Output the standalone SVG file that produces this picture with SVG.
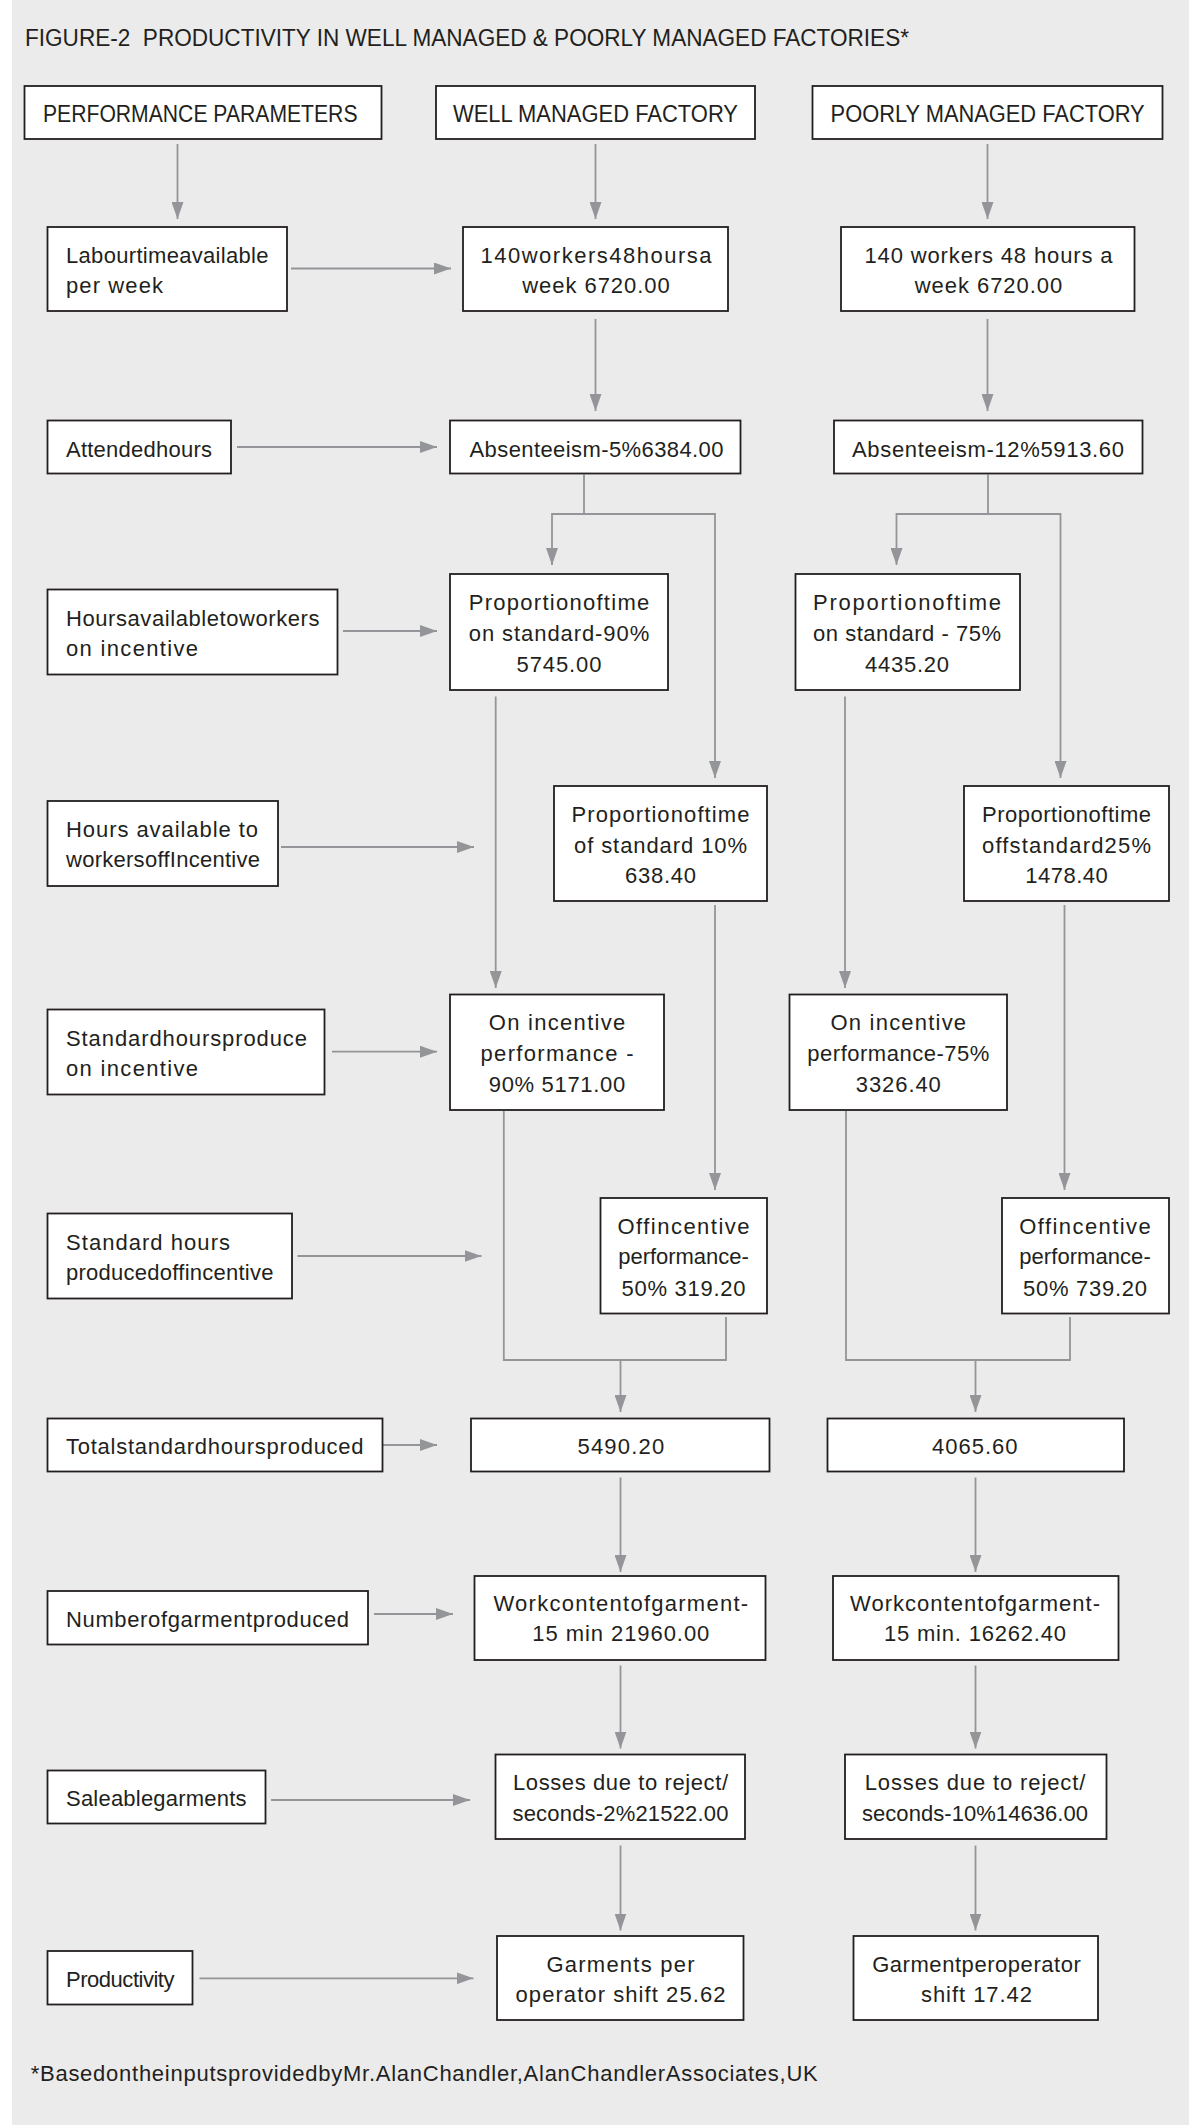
<svg xmlns="http://www.w3.org/2000/svg" width="1200" height="2125" viewBox="0 0 1200 2125">
<style>
.bg{fill:#ebebeb}
.box{fill:#ffffff;stroke:#231f20;stroke-width:1.8}
.t{font-family:"Liberation Sans",Arial,sans-serif;font-size:22px;fill:#231f20}
.h{font-size:23px}
.c{text-anchor:middle}
.ln{fill:none;stroke:#939598;stroke-width:1.8}
.ar{marker-end:url(#ah)}
</style>
<defs>
<marker id="ah" markerUnits="userSpaceOnUse" markerWidth="17" markerHeight="12" refX="17" refY="6" orient="auto" viewBox="0 0 17 12">
<path d="M0,0 L17,6 L0,12 Z" fill="#939598"/>
</marker>
</defs>
<rect width="1200" height="2125" fill="#ffffff"/>
<rect class="bg" x="12" y="0" width="1177" height="2125"/>
<text class="t h" x="25" y="46" textLength="884" lengthAdjust="spacingAndGlyphs" xml:space="preserve">FIGURE-2  PRODUCTIVITY IN WELL MANAGED &amp; POORLY MANAGED FACTORIES*</text>

<g id="connectors">
<path class="ln ar" d="M177.5,144 V219"/>
<path class="ln ar" d="M595.5,144 V219"/>
<path class="ln ar" d="M987.5,144 V219"/>
<path class="ln ar" d="M291,268.5 H451"/>
<path class="ln ar" d="M595.5,319 V411"/>
<path class="ln ar" d="M987.5,319 V411"/>
<path class="ln ar" d="M237,447 H437"/>
<path class="ln" d="M584,474.5 V514"/>
<path class="ln ar" d="M584,514 H552 V565"/>
<path class="ln ar" d="M584,514 H715 V778"/>
<path class="ln" d="M988,474.5 V514"/>
<path class="ln ar" d="M988,514 H896.5 V565"/>
<path class="ln ar" d="M988,514 H1060.5 V778"/>
<path class="ln ar" d="M343,631 H437"/>
<path class="ln ar" d="M495.7,696.5 V988"/>
<path class="ln ar" d="M845,696.5 V988"/>
<path class="ln ar" d="M281,847 H474"/>
<path class="ln ar" d="M715,905 V1190"/>
<path class="ln ar" d="M1064.5,905 V1190"/>
<path class="ln ar" d="M332,1051.7 H437"/>
<path class="ln ar" d="M297.5,1256 H481.5"/>
<path class="ln" d="M503.8,1111 V1360 H726 V1317"/>
<path class="ln ar" d="M620.5,1360 V1412"/>
<path class="ln" d="M846,1111 V1360 H1070 V1317"/>
<path class="ln ar" d="M975.5,1360 V1412"/>
<path class="ln ar" d="M383,1445 H437"/>
<path class="ln ar" d="M620.5,1477.5 V1572"/>
<path class="ln ar" d="M975.5,1477.5 V1572"/>
<path class="ln ar" d="M374,1614 H453"/>
<path class="ln ar" d="M620.5,1665.5 V1748.5"/>
<path class="ln ar" d="M975.5,1665.5 V1748.5"/>
<path class="ln ar" d="M271,1800 H470"/>
<path class="ln ar" d="M620.5,1845.5 V1930.5"/>
<path class="ln ar" d="M975.5,1845.5 V1930.5"/>
<path class="ln ar" d="M199.5,1978.3 H473.5"/>
</g>

<g id="n-pp"><rect class="box" x="24.5" y="86" width="357" height="53"/><text class="t h" x="43" y="122" textLength="314.5" lengthAdjust="spacingAndGlyphs">PERFORMANCE PARAMETERS</text></g>
<g id="n-wmf"><rect class="box" x="436" y="86" width="319" height="53"/><text class="t h c" x="595.5" y="122" textLength="285" lengthAdjust="spacingAndGlyphs">WELL MANAGED FACTORY</text></g>
<g id="n-pmf"><rect class="box" x="812.5" y="86" width="350" height="53"/><text class="t h c" x="987.6" y="122" textLength="314" lengthAdjust="spacingAndGlyphs">POORLY MANAGED FACTORY</text></g>

<g id="n-labour"><rect class="box" x="47.5" y="227" width="239.5" height="84"/><text class="t" x="66" y="263" textLength="202.5">Labourtimeavailable</text><text class="t" x="66" y="293" textLength="97">per week</text></g>
<g id="n-w1"><rect class="box" x="463" y="227" width="265" height="84"/><text class="t c" x="596" y="263" textLength="231">140workers48hoursa</text><text class="t c" x="596" y="293" textLength="147.5">week 6720.00</text></g>
<g id="n-p1"><rect class="box" x="841" y="227" width="293.5" height="84"/><text class="t c" x="988.5" y="263" textLength="248">140 workers 48 hours a</text><text class="t c" x="988.5" y="293" textLength="147.5">week 6720.00</text></g>

<g id="n-attended"><rect class="box" x="47.5" y="420.5" width="183.5" height="53"/><text class="t" x="66" y="456.5" textLength="146">Attendedhours</text></g>
<g id="n-w2"><rect class="box" x="450" y="420.5" width="290.5" height="53"/><text class="t c" x="596.5" y="456.5" textLength="254">Absenteeism-5%6384.00</text></g>
<g id="n-p2"><rect class="box" x="834" y="420.5" width="308.5" height="53"/><text class="t c" x="988" y="456.5" textLength="272">Absenteeism-12%5913.60</text></g>

<g id="n-hw"><rect class="box" x="47.5" y="589.5" width="290" height="85"/><text class="t" x="66" y="626" textLength="253.5">Hoursavailabletoworkers</text><text class="t" x="66" y="656" textLength="132">on incentive</text></g>
<g id="n-w3"><rect class="box" x="450" y="574" width="218" height="116"/><text class="t c" x="559" y="610" textLength="180.5">Proportionoftime</text><text class="t c" x="559" y="640.5" textLength="180.5">on standard-90%</text><text class="t c" x="559" y="671.5" textLength="85">5745.00</text></g>
<g id="n-p3"><rect class="box" x="795.5" y="574" width="224.5" height="116"/><text class="t c" x="907" y="610" textLength="188">Proportionoftime</text><text class="t c" x="907" y="640.5" textLength="188">on standard - 75%</text><text class="t c" x="907" y="671.5" textLength="84">4435.20</text></g>

<g id="n-ha"><rect class="box" x="47.5" y="801" width="230.5" height="85"/><text class="t" x="66" y="837" textLength="192">Hours available to</text><text class="t" x="66" y="867" textLength="194">workersoffIncentive</text></g>
<g id="n-w4"><rect class="box" x="554" y="786" width="213" height="115"/><text class="t c" x="660.5" y="822" textLength="178">Proportionoftime</text><text class="t c" x="660.5" y="852.5" textLength="173">of standard 10%</text><text class="t c" x="660.5" y="883" textLength="71">638.40</text></g>
<g id="n-p4"><rect class="box" x="964" y="786" width="205" height="115"/><text class="t c" x="1066.5" y="822" textLength="169">Proportionoftime</text><text class="t c" x="1066.5" y="852.5" textLength="169">offstandard25%</text><text class="t c" x="1066.5" y="883" textLength="82.5">1478.40</text></g>

<g id="n-sp"><rect class="box" x="47.5" y="1009.5" width="277" height="85"/><text class="t" x="66" y="1046" textLength="241">Standardhoursproduce</text><text class="t" x="66" y="1076" textLength="132">on incentive</text></g>
<g id="n-w5"><rect class="box" x="450" y="994.5" width="214" height="115.5"/><text class="t c" x="557" y="1030" textLength="136.5">On incentive</text><text class="t c" x="557" y="1060.5" textLength="153">performance -</text><text class="t c" x="557" y="1091.5" textLength="136.5">90% 5171.00</text></g>
<g id="n-p5"><rect class="box" x="789.5" y="994.5" width="217.5" height="115.5"/><text class="t c" x="898.3" y="1030" textLength="135.6">On incentive</text><text class="t c" x="898.3" y="1060.5" textLength="182">performance-75%</text><text class="t c" x="898.3" y="1091.5" textLength="85">3326.40</text></g>

<g id="n-sh"><rect class="box" x="47.5" y="1213.5" width="244.5" height="85"/><text class="t" x="66" y="1250" textLength="164">Standard hours</text><text class="t" x="66" y="1280" textLength="207.5">producedoffincentive</text></g>
<g id="n-w6"><rect class="box" x="600.5" y="1198" width="166.5" height="115.5"/><text class="t c" x="683.5" y="1233.5" textLength="132">Offincentive</text><text class="t c" x="683.5" y="1264" textLength="130.5">performance-</text><text class="t c" x="683.5" y="1295.5" textLength="124">50% 319.20</text></g>
<g id="n-p6"><rect class="box" x="1002" y="1198" width="167" height="115.5"/><text class="t c" x="1085" y="1233.5" textLength="131.5">Offincentive</text><text class="t c" x="1085" y="1264" textLength="131.5">performance-</text><text class="t c" x="1085" y="1295.5" textLength="124">50% 739.20</text></g>

<g id="n-total"><rect class="box" x="47.5" y="1418.5" width="335" height="53"/><text class="t" x="66" y="1453.5" textLength="297.6">Totalstandardhoursproduced</text></g>
<g id="n-w7"><rect class="box" x="471" y="1418.5" width="298.5" height="53"/><text class="t c" x="620.8" y="1453.5" textLength="86.7">5490.20</text></g>
<g id="n-p7"><rect class="box" x="827.5" y="1418.5" width="296.5" height="53"/><text class="t c" x="974.8" y="1453.5" textLength="85.5">4065.60</text></g>

<g id="n-num"><rect class="box" x="47.5" y="1591" width="320.5" height="53.5"/><text class="t" x="66" y="1626.5" textLength="283">Numberofgarmentproduced</text></g>
<g id="n-w8"><rect class="box" x="474.5" y="1576" width="291" height="84"/><text class="t c" x="620.8" y="1610.5" textLength="254.7">Workcontentofgarment-</text><text class="t c" x="620.8" y="1641" textLength="177">15 min 21960.00</text></g>
<g id="n-p8"><rect class="box" x="833" y="1576" width="285.5" height="84"/><text class="t c" x="975" y="1610.5" textLength="250">Workcontentofgarment-</text><text class="t c" x="975" y="1641" textLength="182">15 min. 16262.40</text></g>

<g id="n-sale"><rect class="box" x="47.5" y="1770.5" width="218" height="53"/><text class="t" x="66" y="1806" textLength="180.6">Saleablegarments</text></g>
<g id="n-w9"><rect class="box" x="495.5" y="1754.5" width="249.5" height="84.5"/><text class="t c" x="620.5" y="1789.5" textLength="215">Losses due to reject/</text><text class="t c" x="620.5" y="1820.5" textLength="216">seconds-2%21522.00</text></g>
<g id="n-p9"><rect class="box" x="845" y="1754.5" width="261.5" height="84.5"/><text class="t c" x="975" y="1789.5" textLength="220.5">Losses due to reject/</text><text class="t c" x="975" y="1820.5" textLength="226">seconds-10%14636.00</text></g>

<g id="n-prod"><rect class="box" x="47.5" y="1951" width="145" height="53.5"/><text class="t" x="66" y="1987" textLength="108.5">Productivity</text></g>
<g id="n-w10"><rect class="box" x="497" y="1936" width="246.5" height="84"/><text class="t c" x="620.5" y="1971.5" textLength="148">Garments per</text><text class="t c" x="620.5" y="2001.5" textLength="210">operator shift 25.62</text></g>
<g id="n-p10"><rect class="box" x="853.5" y="1936" width="244.5" height="84"/><text class="t c" x="976.5" y="1971.5" textLength="208.7">Garmentperoperator</text><text class="t c" x="976.5" y="2001.5" textLength="111">shift 17.42</text></g>

<text class="t" x="30.7" y="2081" textLength="787">*BasedontheinputsprovidedbyMr.AlanChandler,AlanChandlerAssociates,UK</text>
</svg>
